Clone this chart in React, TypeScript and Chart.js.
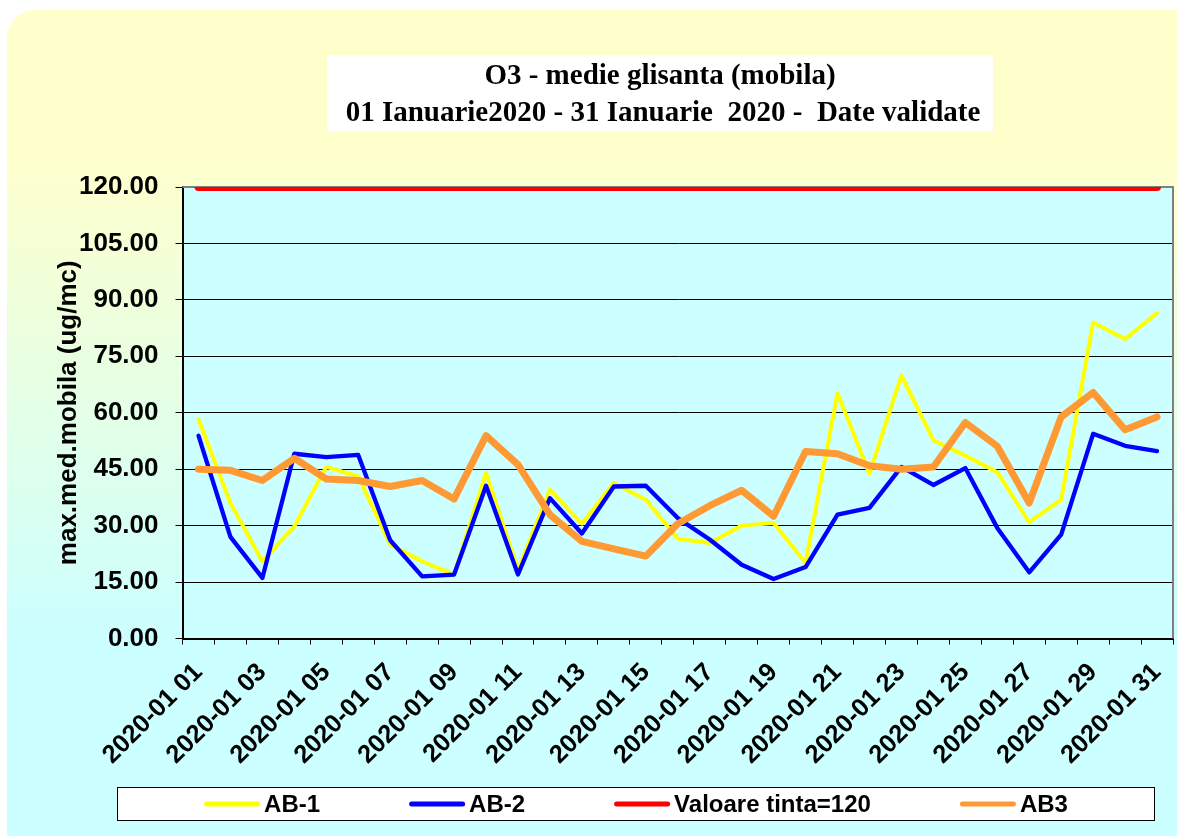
import React, { useEffect, useRef } from 'react';
import { Chart, registerables } from 'chart.js';

Chart.register(...registerables);

const categories = [
  '2020-01 01', '2020-01 02', '2020-01 03', '2020-01 04', '2020-01 05', '2020-01 06', '2020-01 07', '2020-01 08',
  '2020-01 09', '2020-01 10', '2020-01 11', '2020-01 12', '2020-01 13', '2020-01 14', '2020-01 15', '2020-01 16',
  '2020-01 17', '2020-01 18', '2020-01 19', '2020-01 20', '2020-01 21', '2020-01 22', '2020-01 23', '2020-01 24',
  '2020-01 25', '2020-01 26', '2020-01 27', '2020-01 28', '2020-01 29', '2020-01 30', '2020-01 31',
];

const ab1 = [58.3, 36.0, 20.5, 29.8, 45.6, 43.1, 25.0, 20.5, 17.0, 44.0, 18.3, 39.6, 30.5, 41.3, 36.9, 26.5,
  25.4, 30.0, 30.7, 20.1, 65.2, 43.8, 69.9, 52.7, 48.6, 44.2, 30.9, 36.9, 84.0, 79.6, 86.5];
const ab2 = [53.9, 27.0, 16.1, 49.1, 48.2, 48.8, 26.1, 16.5, 17.0, 40.6, 17.0, 37.3, 27.9, 40.4, 40.6, 32.0,
  26.3, 19.6, 15.8, 19.0, 32.9, 34.7, 45.6, 40.8, 45.3, 29.4, 17.6, 27.6, 54.4, 51.2, 49.8];
const target = [120, 120, 120, 120, 120, 120, 120, 120, 120, 120, 120, 120, 120, 120, 120, 120,
  120, 120, 120, 120, 120, 120, 120, 120, 120, 120, 120, 120, 120, 120, 120];
const ab3 = [45.0, 44.7, 42.0, 47.9, 42.4, 42.0, 40.4, 42.0, 37.1, 53.9, 46.2, 32.9, 25.8, 23.8, 21.9, 30.5,
  35.3, 39.4, 32.5, 49.7, 49.1, 45.9, 45.0, 45.6, 57.4, 51.1, 36.0, 58.9, 65.4, 55.5, 58.9];

const seriesLabels = ['AB-1', 'AB-2', 'Valoare tinta=120', 'AB3'];
const titleLines = ['O3 - medie glisanta (mobila)', '01 Ianuarie2020 - 31 Ianuarie  2020 -  Date validate'];
const yAxisTitle = 'max.med.mobila (ug/mc)';
const yMin = 0;
const yMax = 120;
const yStep = 15;

const W = 1177;
const H = 836;
const SANS = '"Liberation Sans", Arial, sans-serif';
const SERIF = '"Liberation Serif", "Times New Roman", serif';

const decorPlugin = {
  id: 'decor',
  beforeDraw(chart: any) {
    const { ctx, chartArea: a } = chart;
    ctx.save();
    ctx.fillStyle = '#CCFFFF';
    ctx.fillRect(a.left, a.top, a.right - a.left, a.bottom - a.top);
    ctx.restore();
  },
  beforeDatasetsDraw(chart: any) {
    const { ctx, chartArea: a } = chart;
    ctx.save();
    ctx.strokeStyle = '#808080';
    ctx.lineWidth = 2;
    ctx.beginPath();
    ctx.moveTo(a.left, a.top);
    ctx.lineTo(a.right, a.top);
    ctx.lineTo(a.right, a.bottom);
    ctx.stroke();
    ctx.restore();
  },
  afterDraw(chart: any) {
    const { ctx } = chart;
    ctx.save();
    // title box
    ctx.fillStyle = '#FFFFFF';
    ctx.fillRect(327, 55, 666, 76);
    ctx.fillStyle = '#000000';
    ctx.font = `bold 29px ${SERIF}`;
    ctx.textAlign = 'center';
    ctx.textBaseline = 'alphabetic';
    ctx.fillText(titleLines[0], 660, 84);
    ctx.fillText(titleLines[1], 663, 120.5);

    // legend box
    const bx = 117, by = 787, bw = 1038, bh = 34;
    ctx.fillStyle = '#FFFFFF';
    ctx.fillRect(bx, by, bw, bh);
    ctx.strokeStyle = '#000000';
    ctx.lineWidth = 1;
    ctx.strokeRect(bx + 0.5, by + 0.5, bw - 1, bh - 1);
    ctx.font = `bold 24px ${SANS}`;
    const sampleW = 56, textGap = 4, itemGap = 89;
    const ds = chart.data.datasets;
    const widths = ds.map((d: any) => sampleW + textGap + ctx.measureText(d.label).width);
    const total = widths.reduce((s: number, w: number) => s + w, 0) + itemGap * (ds.length - 1);
    let x = bx + bw / 2 - total / 2;
    const ly = by + bh / 2;
    ds.forEach((d: any, i: number) => {
      ctx.strokeStyle = d.borderColor;
      ctx.lineWidth = 5;
      ctx.lineCap = 'round';
      ctx.beginPath();
      ctx.moveTo(x + 2.5, ly);
      ctx.lineTo(x + sampleW - 2.5, ly);
      ctx.stroke();
      ctx.fillStyle = '#000000';
      ctx.textAlign = 'left';
      ctx.textBaseline = 'middle';
      ctx.fillText(d.label, x + sampleW + textGap, ly + 1);
      x += widths[i] + itemGap;
    });
    ctx.restore();
  },
};

export default function App() {
  const canvasRef = useRef<HTMLCanvasElement | null>(null);

  useEffect(() => {
    const canvas = canvasRef.current;
    if (!canvas) return;
    const chart = new Chart(canvas, {
      type: 'line',
      data: {
        labels: categories,
        datasets: [
          {
            label: seriesLabels[0], data: ab1, borderColor: '#FFFF00', backgroundColor: '#FFFF00',
            borderWidth: 4, pointRadius: 0, tension: 0, order: 3,
            borderCapStyle: 'round', borderJoinStyle: 'round',
          },
          {
            label: seriesLabels[1], data: ab2, borderColor: '#0000FF', backgroundColor: '#0000FF',
            borderWidth: 4.3, pointRadius: 0, tension: 0, order: 2,
            borderCapStyle: 'round', borderJoinStyle: 'round',
          },
          {
            label: seriesLabels[2], data: target, borderColor: '#FF0000', backgroundColor: '#FF0000',
            borderWidth: 8, pointRadius: 0, tension: 0, order: 1,
            borderCapStyle: 'round', borderJoinStyle: 'round',
            clip: { left: false, right: false, top: 0, bottom: false },
          },
          {
            label: seriesLabels[3], data: ab3, borderColor: '#FF9933', backgroundColor: '#FF9933',
            borderWidth: 7, pointRadius: 0, tension: 0, order: 0,
            borderCapStyle: 'round', borderJoinStyle: 'round',
          },
        ],
      } as any,
      plugins: [decorPlugin],
      options: {
        animation: false,
        responsive: false,
        devicePixelRatio: 1,
        events: [],
        layout: { padding: { left: 0, top: 187, right: 4, bottom: 0 } },
        plugins: {
          legend: { display: false },
          title: { display: false },
          tooltip: { enabled: false },
        },
        scales: {
          x: {
            type: 'category',
            offset: true,
            afterFit: (s: any) => {
              s.height = H - 638.5;
              s.paddingLeft = 0;
              s.paddingRight = 0;
            },
            grid: {
              display: true,
              drawOnChartArea: false,
              offset: true,
              drawTicks: true,
              tickLength: 6,
              color: '#000000',
              tickColor: '#000000',
              lineWidth: 1,
            },
            border: { display: true, color: '#000000', width: 2 },
            ticks: {
              autoSkip: false,
              maxRotation: 45,
              minRotation: 45,
              padding: 13,
              color: '#000000',
              font: { family: SANS, size: 25.5, weight: 'bold' },
              callback: (_v: any, i: number) => (i % 2 === 0 ? categories[i] : ''),
            },
          },
          y: {
            min: yMin,
            max: yMax,
            afterFit: (s: any) => {
              s.width = 182.5;
              s.paddingTop = 0;
              s.paddingBottom = 0;
            },
            grid: {
              color: (c: any) => (c.tick && c.tick.value === yMax ? '#808080' : '#000000'),
              lineWidth: 1,
              drawTicks: true,
              tickLength: 7,
              tickColor: '#000000',
            },
            border: { display: true, color: '#000000', width: 2 },
            ticks: {
              stepSize: yStep,
              padding: 17,
              color: '#000000',
              font: { family: SANS, size: 26, weight: 'bold' },
              callback: (v: any) => Number(v).toFixed(2),
            },
            title: {
              display: true,
              text: yAxisTitle,
              color: '#000000',
              font: { family: SANS, size: 26, weight: 'bold' },
              padding: { top: 53, bottom: 0 },
            },
          },
        },
      } as any,
    });
    return () => chart.destroy();
  }, []);

  return (
    <div style={{ position: 'absolute', left: 0, top: 0, width: W, height: H, overflow: 'hidden', background: '#FFFFFF' }}>
      <div
        style={{
          position: 'absolute', left: 7, top: 10, width: 1250, height: 900,
          borderTopLeftRadius: 28,
          background: 'linear-gradient(to bottom, #FFFFCC 0px, #FFFFCC 140px, #CCFFFF 630px, #CCFFFF 900px)',
        }}
      />
      <canvas ref={canvasRef} width={W} height={H} style={{ position: 'absolute', left: 0, top: 0, display: 'block' }} />
    </div>
  );
}
